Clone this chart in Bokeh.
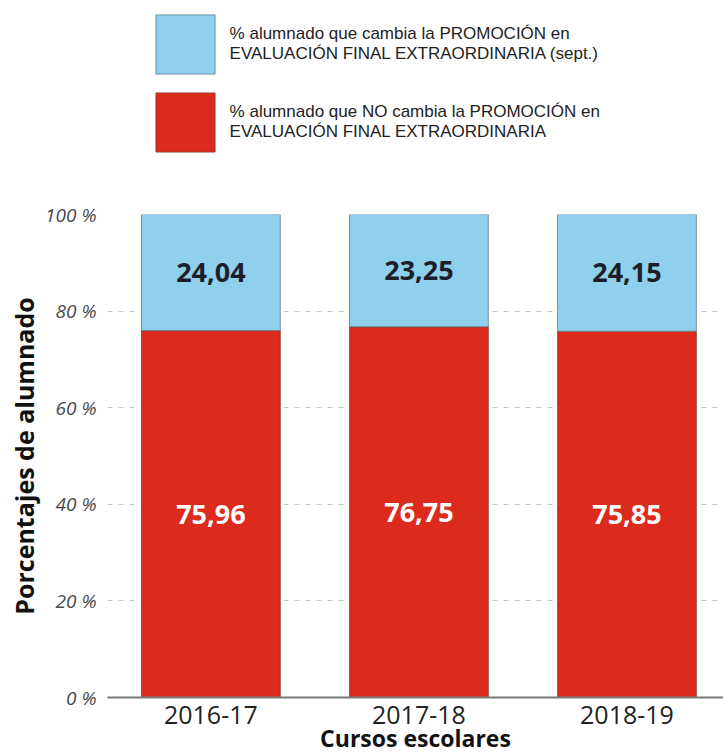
from bokeh.plotting import figure
from bokeh.models import (ColumnDataSource, Range1d, FixedTicker, Legend, LegendItem)
from bokeh.layouts import column
from bokeh.core.properties import value
from bokeh.embed import file_html
from bokeh.resources import INLINE

# ---- data ----
cursos = ["2016-17", "2017-18", "2018-19"]
no_cambia = [75.96, 76.75, 75.85]
si_cambia = [24.04, 23.25, 24.15]
y_ticks = [0, 20, 40, 60, 80, 100]
y_tick_labels = ["0 %", "20 %", "40 %", "60 %", "80 %", "100 %"]
label_si = "% alumnado que cambia la PROMOCIÓN en\nEVALUACIÓN FINAL EXTRAORDINARIA (sept.)"
label_no = "% alumnado que NO cambia la PROMOCIÓN en\nEVALUACIÓN FINAL EXTRAORDINARIA"
x_title = "Cursos escolares"
y_title = "Porcentajes de alumnado"

RED = "#dc2a1d"
BLUE = "#8fd0ec"
RED_EDGE = "#8a3a30"
BLUE_EDGE = "#5f7c8a"

xs = list(range(len(cursos)))
fmt = lambda v: f"{v:.2f}".replace(".", ",")
source = ColumnDataSource(dict(
    x=xs,
    no=no_cambia,
    si=si_cambia,
    no_mid=[v / 2 for v in no_cambia],
    si_mid=[a + b / 2 for a, b in zip(no_cambia, si_cambia)],
    no_txt=[fmt(v) for v in no_cambia],
    si_txt=[fmt(v) for v in si_cambia],
))

W = 723
LEG_H = 200
bw = 0.667

# ---------- legend strip (top) ----------
pl = figure(width=W, height=LEG_H, output_backend="svg", toolbar_location=None,
            x_range=Range1d(10, 11), y_range=Range1d(1000, 1001),
            x_axis_type=None, y_axis_type=None, min_border=0)
pl.title.visible = False
pl.outline_line_color = None
pl.xgrid.visible = False
pl.ygrid.visible = False
l_si = pl.vbar(x="x", bottom="no", top=100, width=bw, source=source,
               fill_color=BLUE, line_color=BLUE_EDGE, line_width=0.8, visible=False)
l_no = pl.vbar(x="x", bottom=0, top="no", width=bw, source=source,
               fill_color=RED, line_color=RED_EDGE, line_width=0.8, visible=False)
legend = Legend(items=[LegendItem(label=label_si, renderers=[l_si]),
                       LegendItem(label=label_no, renderers=[l_no])],
                location=(40.6, LEG_H - 158.6), orientation="vertical",
                glyph_width=74, glyph_height=74, spacing=4, label_standoff=8,
                margin=0, padding=0, border_line_color=None,
                background_fill_alpha=0, inactive_fill_alpha=0,
                label_text_font="Liberation Sans", label_text_font_size="17px",
                label_text_color="#222222", label_text_line_height=1.05)
pl.add_layout(legend, "center")

# ---------- main chart ----------
p = figure(width=W, height=756 - LEG_H, output_backend="svg", toolbar_location=None,
           x_range=Range1d(-0.497, 2.464), y_range=Range1d(0, 100),
           min_border_left=107, min_border_right=0, min_border_top=214 - LEG_H,
           min_border_bottom=0)
p.title.visible = False
p.outline_line_color = None
p.background_fill_color = "white"

r_no = p.vbar(x="x", bottom=0, top="no", width=bw, source=source,
              fill_color=RED, line_color=RED_EDGE, line_width=0.8)
r_si = p.vbar(x="x", bottom="no", top=100, width=bw, source=source,
              fill_color=BLUE, line_color=BLUE_EDGE, line_width=0.8)

p.text(x="x", y="si_mid", text="si_txt", source=source, text_align="center",
       text_baseline="middle", text_font=value("Open Sans"), text_font_style="bold",
       text_font_size="27px", text_color="#1c1f2a")
p.text(x="x", y="no_mid", text="no_txt", source=source, text_align="center",
       text_baseline="middle", text_font=value("Open Sans"), text_font_style="bold",
       text_font_size="27px", text_color="white")

# axes
p.xaxis.ticker = FixedTicker(ticks=xs)
p.xaxis.major_label_overrides = {i: c for i, c in zip(xs, cursos)}
p.xaxis.major_tick_line_color = None
p.xaxis.minor_tick_line_color = None
p.xaxis.axis_line_color = "#7a7a7a"
p.xaxis.axis_line_width = 2
p.xaxis.major_label_text_font = "Open Sans"
p.xaxis.major_label_text_font_size = "25px"
p.xaxis.major_label_text_color = "#222222"
p.xaxis.major_label_standoff = 2
p.xaxis.axis_label = x_title
p.xaxis.axis_label_text_font = "Open Sans"
p.xaxis.axis_label_text_font_size = "23px"
p.xaxis.axis_label_text_font_style = "bold"
p.xaxis.axis_label_text_color = "#111111"
p.xaxis.axis_label_standoff = -5

p.yaxis.ticker = FixedTicker(ticks=y_ticks)
p.yaxis.major_label_overrides = {t: l for t, l in zip(y_ticks, y_tick_labels)}
p.yaxis.major_tick_line_color = None
p.yaxis.minor_tick_line_color = None
p.yaxis.axis_line_color = None
p.yaxis.major_label_text_font = "Open Sans"
p.yaxis.major_label_text_font_style = "italic"
p.yaxis.major_label_text_font_size = "19px"
p.yaxis.major_label_text_color = "#4a4a4a"
p.yaxis.major_label_standoff = 5
p.yaxis.axis_label = y_title
p.yaxis.axis_label_text_font = "Open Sans"
p.yaxis.axis_label_text_font_size = "25px"
p.yaxis.axis_label_text_font_style = "bold"
p.yaxis.axis_label_text_color = "#111111"
p.yaxis.axis_label_standoff = 1

p.xgrid.grid_line_color = None
p.ygrid.grid_line_color = "#c4c4c4"
p.ygrid.grid_line_dash = "5 6"
p.ygrid.grid_line_width = 1

layout = column(pl, p, spacing=0)
open("out.html", "w").write(file_html(layout, INLINE))
